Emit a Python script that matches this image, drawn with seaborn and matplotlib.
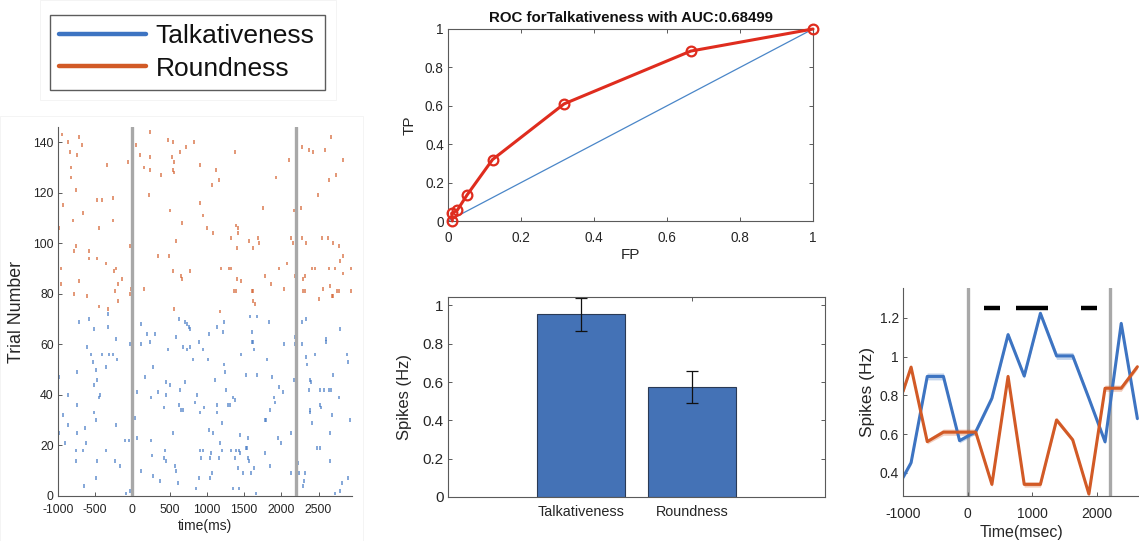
import numpy as np
import pandas as pd
import matplotlib
matplotlib.use("Agg")
import matplotlib.pyplot as plt
from matplotlib.lines import Line2D
import seaborn as sns

sns.set_theme(style="white")
plt.rcParams['font.family'] = ['Liberation Sans', 'DejaVu Sans']
plt.rcParams['axes.unicode_minus'] = False

# ---------------- data ----------------
conditions = ["Talkativeness", "Roundness"]
cond_colors = ["#3d74c2", "#d25a26"]

# raster spikes (time ms, trial number)
round_spike_t = [-940, -865, -720, -680, -845, -745, -825, -830, -760, -935, -670, -980, -805, -760, -790,
                 -955, -955, -715, -790, -610, -585, -455, -470, -415, -260, -255, -585, -470, -360, -245,
                 -215, -195, -240, -140, -455, -325, -195, -335, -60, -35, -20, -30,
                 45, 240, 155, 100, 240, 230, 225, 385, 475, 540, 535, 555, 550, 560, 635, 715, 830, 500,
                 665, 580, 345, 485, 545, 655, 660, 560, 775, 150, 905, 1070, 1120, 1165, 910, 945, 1005,
                 1085, 1320, 1380, 1390, 1415, 1425, 1400, 1185, 1295, 1320, 1405, 1465, 1365, 1385, 1175,
                 1570, 1690, 1625, 1705, 1760, 1605, 1620, 1615, 1645, 1785, 1865, 1930, 1975, 2030, 2100,
                 2075, 2130, 2155, 2165, 2185, 2210, 2200, 2205,
                 2275, 2375, 2430, 2590, 2665, 2835, 2635, 2735, 2490, 2265, 2275, 2335, 2545, 2625, 2700,
                 2775, 2835, 2790, 2410, 2455, 2645, 2715, 2835, 2930, 2320, 2290, 2295, 2320, 2565, 2655,
                 2680, 2700, 2745, 2770, 2930, 2500]
round_spike_trial = [143, 140, 142, 139, 136, 135, 130, 126, 121, 115, 112, 106, 109, 99, 97,
                     90, 84, 85, 80, 79, 97, 106, 117, 117, 118, 109, 94, 94, 92, 89,
                     90, 84, 81, 86, 75, 74, 77, 131, 132, 99, 82, 80,
                     139, 134, 130, 135, 144, 129, 119, 127, 141, 140, 134, 132, 129, 128, 136, 138, 140, 113,
                     108, 101, 95, 95, 89, 87, 86, 74, 89, 82, 131, 123, 129, 125, 116, 111, 106,
                     104, 102, 136, 107, 106, 104, 98, 90, 90, 90, 86, 85, 81, 81, 73,
                     101, 102, 98, 100, 114, 81, 81, 77, 76, 87, 84, 126, 90, 82, 133,
                     92, 102, 100, 113, 87, 123, 120, 108,
                     138, 137, 136, 137, 142, 133, 125, 127, 119, 114, 102, 100, 102, 102, 100,
                     99, 95, 93, 90, 90, 90, 90, 88, 90, 87, 86, 81, 81, 82, 83,
                     79, 79, 81, 81, 81, 78]

talk_spike_t = [-715, -590, -515, -325, -330, -215, -745, -610, -555, -535, -415, -320, -255, -210, -490,
                -355, -480, -510, -435, -455, -865, -985, -935, -515, -490, -745, -870, -640, -215, -740,
                -980, -900, -630, -355, -670, -760, -760, -470, -240, -170, -105, -45, -35, -490, -655,
                -90, -35,
                110, 55, 30, 55, 110, 165, 200, 235, 300, 270, 245, 245, 265, 120, 280, 375, 345, 445,
                500, 445, 420, 430, 445, 435, 480, 545, 580, 625, 710, 735, 755, 770, 680, 730, 770, 640,
                630, 655, 680, 710, 810, 570, 580, 615, 850, 895, 905, 920, 950, 895, 950, 845, 905, 960,
                865, 1050, 1040, 1045, 1070, 1025, 1030, 1020, 1085, 1110, 1165, 1175, 1130, 1140, 1130,
                1230, 1220, 1210, 1230, 1240, 1285, 1310, 1200, 1255, 1355, 1375, 1325, 1390, 1435, 1445,
                1375, 1355, 1435, 1425, 1480, 1445, 1555, 1525, 1535, 1555, 1560, 1455, 1530, 1590, 1660,
                1640, 1580, 1670, 1600, 1600, 1625, 1635, 1670, 1775, 1780, 1795, 1805, 1830, 1850, 1875,
                1850, 1905, 1920, 1965, 2020, 1960, 1995, 2040, 2130, 2165, 2130, 2200, 2190, 2190, 2230,
                2240,
                2295, 2305, 2325, 2275, 2335, 2275, 2340, 2335, 2380, 2395, 2375, 2385, 2410, 2385, 2450,
                2525, 2580, 2645, 2670, 2515, 2535, 2595, 2605, 2700, 2770, 2675, 2650, 2790, 2880, 2895,
                2475, 2525, 2660, 2720, 2790, 2815, 2900, 2920]
talk_spike_trial = [69, 70, 66, 72, 67, 62, 49, 59, 56, 53, 56, 56, 56, 54, 50,
                    51, 46, 44, 40, 39, 40, 47, 32, 33, 30, 36, 28, 27, 28, 25,
                    25, 21, 21, 18, 18, 18, 14, 14, 14, 12, 22, 22, 60, 7, 4,
                    1, 2,
                    68, 41, 31, 23, 60, 47, 64, 61, 64, 51, 39, 22, 16, 10, 8, 6, 41, 45,
                    44, 40, 35, 15, 14, 18, 58, 25, 63, 70, 69, 68, 67, 66, 59, 58, 59, 42,
                    36, 34, 34, 45, 54, 12, 10, 5, 3, 7, 18, 15, 18, 61, 58, 37, 33, 35,
                    40, 17, 15, 7, 9, 26, 64, 54, 25, 46, 15, 21, 33, 36, 67,
                    69, 65, 29, 52, 49, 36, 36, 18, 42, 39, 38, 18, 18, 18, 17,
                    15, 3, 3, 11, 9, 24, 23, 19, 19, 15, 14, 56, 48, 9, 1,
                    11, 71, 71, 65, 61, 61, 58, 48, 17, 30, 30, 54, 69, 12, 47,
                    34, 39, 37, 43, 41, 23, 21, 60, 25, 46, 9, 71, 63, 60, 13,
                    9,
                    4, 6, 9, 69, 70, 60, 52, 55, 46, 45, 42, 34, 29, 33, 56,
                    42, 42, 42, 42, 36, 35, 61, 62, 48, 39, 32, 25, 66, 56, 53,
                    19, 19, 14, 1, 2, 5, 7, 30]

event_times = [0, 2200]
raster_xticks = [-1000, -500, 0, 500, 1000, 1500, 2000, 2500]
raster_yticks = [0, 20, 40, 60, 80, 100, 120, 140]

# ROC curve
roc_fp = [0.012, 0.010, 0.025, 0.052, 0.122, 0.318, 0.665, 1.0]
roc_tp = [0.0, 0.040, 0.055, 0.135, 0.320, 0.610, 0.885, 1.0]
roc_title = "ROC forTalkativeness with AUC:0.68499"
unit_ticks = [0, 0.2, 0.4, 0.6, 0.8, 1]
unit_ticklabels = ["0", "0.2", "0.4", "0.6", "0.8", "1"]

# bar chart
bar_means = [0.955, 0.576]
bar_sems = [0.086, 0.084]

# PSTH
psth_t = [-1000, -875, -625, -375, -125, 125, 375, 625, 875, 1125, 1375, 1625, 1875, 2125, 2375, 2625]
talk_rate = [0.376, 0.452, 0.898, 0.898, 0.566, 0.612, 0.785, 1.114, 0.900, 1.224, 1.004, 1.004, 0.785, 0.560, 1.172, 0.680]
round_rate = [0.820, 0.946, 0.561, 0.610, 0.610, 0.610, 0.340, 0.898, 0.340, 0.340, 0.673, 0.570, 0.290, 0.837, 0.837, 0.948]
talk_sem = [0.012, 0.012, 0.018, 0.018, 0.012, 0.012, 0.012, 0.014, 0.012, 0.014, 0.018, 0.018, 0.012, 0.012, 0.014, 0.012]
round_sem = [0.012, 0.012, 0.012, 0.016, 0.016, 0.016, 0.012, 0.012, 0.014, 0.014, 0.014, 0.012, 0.012, 0.016, 0.016, 0.012]
sig_start = [250, 750, 1750]
sig_end = [500, 1250, 2000]
sig_level = 1.252
psth_xticks = [-1000, 0, 1000, 2000]
psth_yticks = [0.4, 0.6, 0.8, 1.0, 1.2]
psth_yticklabels = ["0.4", "0.6", "0.8", "1", "1.2"]

# ---------------- figure ----------------
W, H = 1139, 541
fig = plt.figure(figsize=(W / 100, H / 100), dpi=100)
fig.patch.set_facecolor("white")
txt = "#262626"
spine_c = "#5a5a5a"


def ax_px(left, top, right, bottom):
    return fig.add_axes([left / W, 1 - bottom / H, (right - left) / W, (bottom - top) / H])


def style(ax, box, size):
    for s in ax.spines.values():
        s.set_color(spine_c)
        s.set_linewidth(0.8)
    ax.spines['top'].set_visible(box)
    ax.spines['right'].set_visible(box)
    ax.tick_params(direction='in', length=3, width=0.7, colors=spine_c, labelcolor=txt,
                   labelsize=size, top=box, right=box, bottom=True, left=True, pad=3)
    ax.grid(False)


# very faint panel frames as in the source composite
fig.add_artist(plt.Rectangle((40 / W, 1 - 100 / H), 296 / W, 100 / H, fill=False,
                             edgecolor="#f3f3f3", lw=0.6, transform=fig.transFigure))
fig.add_artist(plt.Rectangle((0, 0), 363 / W, 1 - 116 / H, fill=False,
                             edgecolor="#f3f3f3", lw=0.6, transform=fig.transFigure))

# legend panel
lax = ax_px(50, 15, 325, 90)
lax.axis('off')
handles = [Line2D([0], [0], color=c, lw=3.2) for c in cond_colors]
leg = lax.legend(handles, conditions, loc='center', fontsize=19, frameon=True, fancybox=False,
                 handlelength=3.3, handletextpad=0.35, borderpad=0.35, labelspacing=0.32,
                 borderaxespad=0, bbox_to_anchor=(0, 0, 1, 1), mode='expand')
leg.get_frame().set_edgecolor("#333333")
leg.get_frame().set_linewidth(1.0)
for t in leg.get_texts():
    t.set_color("#111111")

# raster panel
rax = ax_px(58, 127, 352, 496)
for c, (ts, tr) in zip(cond_colors, [(talk_spike_t, talk_spike_trial), (round_spike_t, round_spike_trial)]):
    tr = np.asarray(tr, float)
    rax.vlines(ts, tr - 0.75, tr + 0.75, color=c, lw=1.1, alpha=0.8)
for e in event_times:
    rax.axvline(e, color="#a8a8a8", lw=2.4, zorder=3)
rax.set_xlim(-1000, 2950)
rax.set_ylim(0, 146)
rax.set_xticks(raster_xticks)
rax.set_yticks(raster_yticks)
style(rax, False, 8.8)
rax.tick_params(axis='x', pad=6)
rax.set_xlabel("time(ms)", fontsize=10, color=txt, labelpad=2)
rax.set_ylabel("Trial Number", fontsize=12.8, color=txt, labelpad=6)

# ROC panel
oax = ax_px(448, 29, 813, 221)
oax.plot([0, 1], [0, 1], color="#4a86c8", lw=0.9)
sns.lineplot(x=roc_fp, y=roc_tp, ax=oax, color="#df2c1e", lw=2.2, marker='o', markersize=7,
             markerfacecolor='none', markeredgecolor="#df2c1e", markeredgewidth=1.6, sort=False,
             estimator=None, clip_on=False, zorder=5)
oax.set_xlim(0, 1)
oax.set_ylim(0, 1)
oax.set_xticks(unit_ticks)
oax.set_xticklabels(unit_ticklabels)
oax.set_yticks(unit_ticks)
oax.set_yticklabels(unit_ticklabels)
style(oax, True, 9.8)
oax.tick_params(axis='x', pad=7)
oax.set_title(roc_title, fontsize=10.8, fontweight='bold', color="#111111", pad=5)
oax.set_xlabel("FP", fontsize=11, color=txt, labelpad=2)
oax.set_ylabel("TP", fontsize=11, color=txt, labelpad=6)

# bar panel
bax = ax_px(448, 297, 825, 497)
bdf = pd.DataFrame({"cond": conditions, "rate": bar_means})
sns.barplot(data=bdf, x="cond", y="rate", ax=bax, color="#4472b6", saturation=1, width=0.8,
            edgecolor="#2a3a55", linewidth=0.8, errorbar=None)
bax.errorbar(range(len(conditions)), bar_means, yerr=bar_sems, fmt='none', ecolor="#111111",
             elinewidth=0.9, capsize=4, capthick=0.9)
bax.set_xlim(-1.2, 2.2)
bax.set_ylim(0, 1.044)
bax.set_yticks(unit_ticks)
bax.set_yticklabels(unit_ticklabels)
style(bax, True, 11)
bax.tick_params(axis='x', labelsize=10.4, pad=6)
bax.set_xlabel("")
bax.set_ylabel("Spikes (Hz)", fontsize=12, color=txt, labelpad=8)

# PSTH panel
pax = ax_px(903, 288, 1139, 496)
pdf = pd.DataFrame({
    "time": psth_t * 2,
    "rate": talk_rate + round_rate,
    "cond": [conditions[0]] * len(psth_t) + [conditions[1]] * len(psth_t),
})
for c, r, s in zip(cond_colors, [talk_rate, round_rate], [talk_sem, round_sem]):
    r = np.asarray(r)
    s = np.asarray(s)
    pax.fill_between(psth_t, r - s, r + s, color=c, alpha=0.3, lw=0)
sns.lineplot(data=pdf, x="time", y="rate", hue="cond", palette=cond_colors, ax=pax, lw=2.2,
             legend=False, estimator=None)
for e in event_times:
    pax.axvline(e, color="#a8a8a8", lw=2.4, zorder=0)
pax.hlines([sig_level] * len(sig_start), sig_start, sig_end, color="black", lw=3.2)
pax.set_xlim(-1000, 2650)
pax.set_ylim(0.28, 1.355)
pax.set_xticks(psth_xticks)
pax.set_yticks(psth_yticks)
pax.set_yticklabels(psth_yticklabels)
style(pax, False, 10)
pax.tick_params(axis='x', pad=8)
pax.set_xlabel("Time(msec)", fontsize=11.5, color=txt, labelpad=3)
pax.set_ylabel("Spikes (Hz)", fontsize=12.5, color=txt, labelpad=3)

fig.savefig("out.png", dpi=100, facecolor="white")
